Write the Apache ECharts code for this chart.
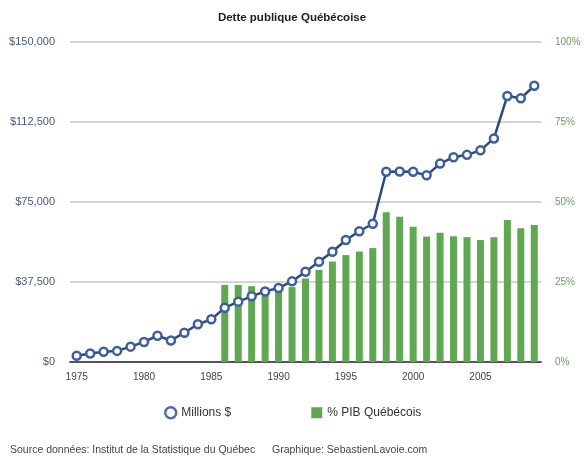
<!DOCTYPE html>
<html>
<head>
<meta charset="utf-8">
<script src="https://cdn.jsdelivr.net/npm/echarts@6/dist/echarts.min.js"></script>
<style>
html,body{margin:0;padding:0;background:#fff;}
#chart{width:584px;height:458px;}
</style>
</head>
<body>
<div id="chart"></div>
<script>
const years = ['1975','1976','1977','1978','1979','1980','1981','1982','1983','1984','1985','1986','1987','1988','1989','1990','1991','1992','1993','1994','1995','1996','1997','1998','1999','2000','2001','2002','2003','2004','2005','2006','2007','2008','2009'];
const debtMillions = [2900,4000,4800,5200,7200,9400,12300,10100,13700,17700,20000,25400,28300,30800,33100,34700,37800,42300,47000,51700,57200,61300,64800,89200,89300,89200,87500,93000,96000,97100,99200,104800,124700,123600,129500];
const pibPercent = [null,null,null,null,null,null,null,null,null,null,null,24.1,24.1,23.7,22.3,22.5,23.4,26.1,28.8,31.4,33.4,34.5,35.6,46.8,45.4,42.3,39.2,40.4,39.3,39.0,38.1,39.0,44.4,41.8,42.8];
const leftTicks = ['$0','$37,500','$75,000','$112,500','$150,000'];
const rightTicks = ['0%','25%','50%','75%','100%'];
const seriesNames = ['Millions $','% PIB Québécois'];

const chart = echarts.init(document.getElementById('chart'));
const fontFam = '"Liberation Sans", Arial, sans-serif';
chart.setOption({
  animation:false,
  backgroundColor:'#ffffff',
  title:[
    {text:'Dette publique Québécoise', left:'center', top:7,
     textStyle:{fontSize:11.5, fontWeight:'bold', color:'#222', fontFamily:fontFam}},
    {text:'Source données: Institut de la Statistique du Québec', left:5, top:440,
     textStyle:{fontSize:10.5, fontWeight:'normal', color:'#444', fontFamily:fontFam}},
    {text:'Graphique: SebastienLavoie.com', left:267, top:440,
     textStyle:{fontSize:10.5, fontWeight:'normal', color:'#444', fontFamily:fontFam}}
  ],
  legend:{
    top:401, left:159, itemGap:80, itemWidth:11, itemHeight:11,
    textStyle:{fontSize:12, color:'#333', fontFamily:fontFam},
    data:[
      {name:seriesNames[0], icon:'circle', itemStyle:{color:'#ffffff', borderColor:'#4a6ea8', borderWidth:2.5}},
      {name:seriesNames[1], icon:'rect', itemStyle:{color:'#5fa851'}}
    ]
  },
  grid:{left:70, right:43, top:42, bottom:96},
  xAxis:{
    type:'category', data:years, boundaryGap:true,
    axisLine:{lineStyle:{color:'#555', width:2}},
    axisTick:{show:false},
    axisLabel:{interval:4, fontSize:10, color:'#444', margin:10, fontFamily:fontFam}
  },
  yAxis:[
    {type:'value', min:0, max:150000, interval:37500,
     axisLine:{show:false}, axisTick:{show:false},
     splitLine:{lineStyle:{color:'#d4d4d4', width:2}},
     axisLabel:{margin:15, fontSize:11, color:'#4a5a80', fontFamily:fontFam,
       formatter:function(v){return leftTicks[Math.round(v/37500)];}}},
    {type:'value', min:0, max:100, interval:25, position:'right',
     axisLine:{show:false}, axisTick:{show:false}, splitLine:{show:false},
     axisLabel:{margin:14, fontSize:10, color:'#6a9e5c', fontFamily:fontFam,
       formatter:function(v){return rightTicks[Math.round(v/25)];}}}
  ],
  series:[
    {name:seriesNames[1], type:'bar', yAxisIndex:1, data:pibPercent, barWidth:7,
     itemStyle:{color:'#5fa851'}, z:1},
    {name:seriesNames[0], type:'line', yAxisIndex:0, data:debtMillions,
     symbol:'circle', symbolSize:8, showAllSymbol:true,
     lineStyle:{color:'#2e4a78', width:2.5},
     itemStyle:{color:'#ffffff', borderColor:'#3d5f9e', borderWidth:2.5}, z:3}
  ]
});
</script>
</body>
</html>
